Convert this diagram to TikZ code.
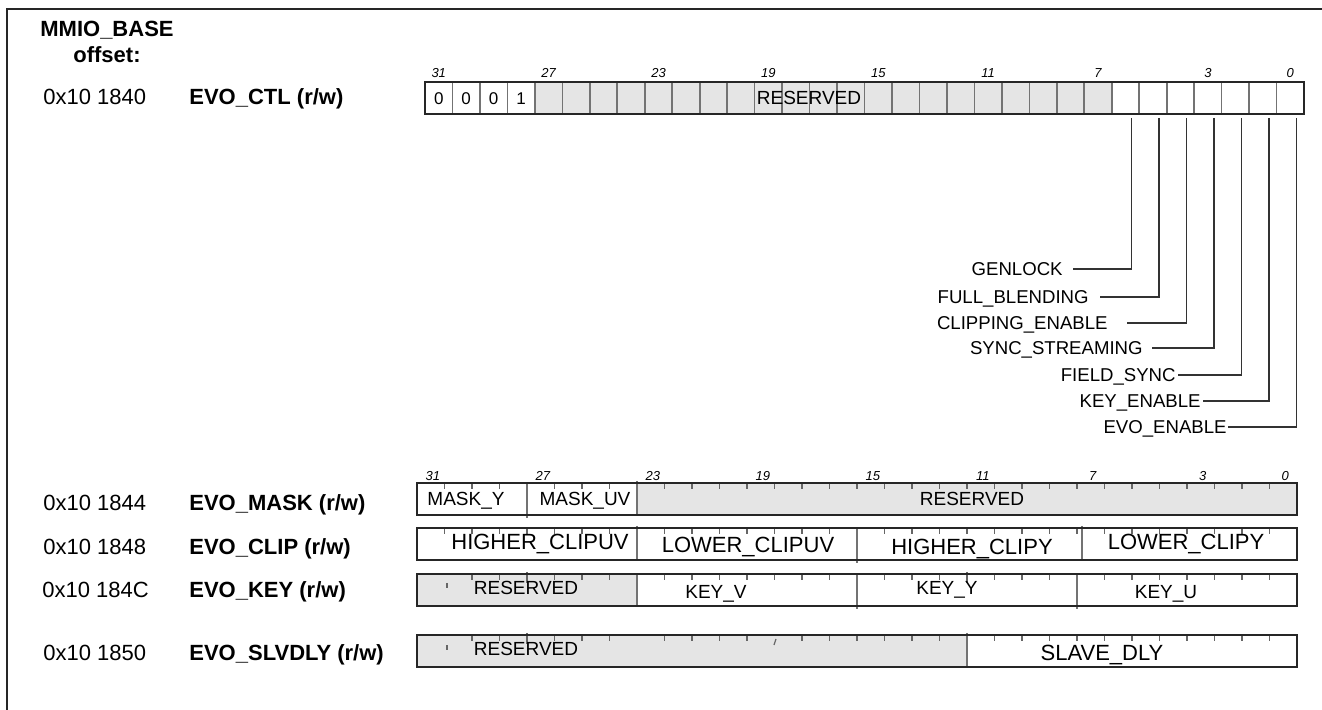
\documentclass[tikz,border=0pt]{standalone}
\usepackage{fontspec}
\setmainfont{Liberation Sans}
\usepackage{tikz}
\usetikzlibrary{positioning}
\usetikzlibrary{calc}

\tikzset{
  frame/.style={draw=black!85,line width=1.4pt},
  hdr/.style={font=\bfseries\fontsize{11}{12}\selectfont,inner sep=0pt},
  addr/.style={font=\fontsize{11}{12}\selectfont,anchor=west,inner sep=0pt,text height=7.9pt,text depth=0pt},
  regname/.style={font=\bfseries\fontsize{11}{12}\selectfont,anchor=west,inner sep=0pt,text height=7.9pt,text depth=0pt},
  bitnum/.style={font=\itshape\fontsize{6.5}{7}\selectfont,inner sep=0pt},
  digit/.style={font=\fontsize{8.5}{10}\selectfont,inner sep=0pt,text height=6.1pt,text depth=0pt},
  field/.style={font=\fontsize{9.5}{11}\selectfont,inner sep=0pt,text height=6.8pt,text depth=0pt},
  bigfield/.style={font=\fontsize{11}{12}\selectfont,inner sep=0pt,text height=7.9pt,text depth=0pt},
  flag/.style={font=\fontsize{9.3}{11}\selectfont,anchor=east,inner sep=0pt,text height=6.7pt,text depth=0pt},
  regbox/.style={draw=black!85,line width=0.9pt},
  cellline/.style={draw=black!55,line width=0.8pt},
  resfill/.style={fill=black!10},
  tick/.style={draw=black!60,line width=0.6pt},
  leader/.style={draw=black!80,line width=0.7pt}
}

\begin{document}
\begin{tikzpicture}[x=0.5pt,y=-0.5pt]
\useasboundingbox (0,0) rectangle (1322,710);
\draw[frame] (7,710) -- (7,9) -- (1322,9);

\node[hdr] (base) at (107,30) {MMIO\_BASE};
\node[hdr] (offs) at (107,55) {offset:};

% EVO_CTL
\node[addr] (actl) at (43,97) {0x10 1840};
\node[regname] (nctl) at (189,97) {EVO\_CTL (r/w)};
\fill[resfill] ({425+4*27.47},82) rectangle ({425+25*27.47},114);
\foreach \i in {1,...,31}
  \draw[cellline] ({425+\i*27.47},82) -- ({425+\i*27.47},114);
\draw[regbox] (425,82) rectangle (1304,114);
\foreach \v [count=\i from 0] in {0,0,0,1}
  \node[digit] (d\i) at ({425+(\i+0.5)*27.47},98) {\v};
\node[field] (resctl) at (809,98) {RESERVED};
\foreach \b in {31,27,23,19,15,11,7,3,0}
  \node[bitnum] (t\b) at ({425+(31.5-\b)*27.47},73) {\b};

\foreach \b/\nm/\txt/\ex/\ey/\gap in {
    6/genlock/GENLOCK/1063/269/10,
    5/fullblend/FULL\_BLENDING/1089/297/11,
    4/clipen/CLIPPING\_ENABLE/1108/323/19,
    3/syncstr/SYNC\_STREAMING/1143/348/9,
    2/fieldsync/FIELD\_SYNC/1176/375/2,
    1/keyen/KEY\_ENABLE/1201/401/2,
    0/evoen/EVO\_ENABLE/1227/427/1}{
  \coordinate (c\b) at ({425+(31.5-\b)*27.47+6},118);
  \node[flag] (\nm) at (\ex,\ey) {\txt};
  \draw[leader] (c\b) |- ($(\nm.east)+(\gap,0)$);
}

% bit numbers of the lower registers
\foreach \b in {31,27,23,19,15,11,7,3,0}
  \node[bitnum] (u\b) at ({417+(31.5-\b)*27.5+2},476) {\b};

% EVO_MASK
\node[addr] (amask) at (43,503) {0x10 1844};
\node[regname] (nmask) at (189,503) {EVO\_MASK (r/w)};
\fill[resfill] (637,483) rectangle (1297,515);
\foreach \i in {1,...,31}
  \draw[tick] ({417+\i*27.5},483) -- ++(0,6);
\draw[cellline] (527,483) -- (527,518);
\draw[cellline] (637,481) -- (637,515);
\draw[regbox] (417,483) rectangle (1297,515);
\node[field] (masky) at (466,499) {MASK\_Y};
\node[field] (maskuv) at (585,499) {MASK\_UV};
\node[field] (resmask) at (972,499) {RESERVED};

% EVO_CLIP
\node[addr] (aclip) at (43,547) {0x10 1848};
\node[regname] (nclip) at (189,547) {EVO\_CLIP (r/w)};
\foreach \i in {1,...,31}
  \draw[tick] ({417+\i*27.5},528) -- ++(0,6);
\draw[cellline] (637,526) -- (637,560);
\draw[cellline] (857,528) -- (857,563);
\draw[cellline] (1082,526) -- (1082,560);
\draw[regbox] (417,528) rectangle (1297,560);
\node[bigfield] (hiuv) at (540,542) {HIGHER\_CLIPUV};
\node[bigfield] (louv) at (748,545) {LOWER\_CLIPUV};
\node[bigfield] (hiy) at (972,547) {HIGHER\_CLIPY};
\node[bigfield] (loy) at (1186,542) {LOWER\_CLIPY};

% EVO_KEY
\node[addr] (akey) at (42,590) {0x10 184C};
\node[regname] (nkey) at (189,590) {EVO\_KEY (r/w)};
\fill[resfill] (417,574) rectangle (637,606);
\foreach \i in {2,...,31}
  \draw[tick] ({417+\i*27.5},574) -- ++(0,6);
\draw[tick] (447,583) -- (447,588);
\draw[tick] (527,572) -- (527,583);
\draw[tick] (967,572) -- (967,583);
\draw[cellline] (637,574) -- (637,606);
\draw[cellline] (857,574) -- (857,609);
\draw[cellline] (1077,574) -- (1077,609);
\draw[regbox] (417,574) rectangle (1297,606);
\node[field] (reskey) at (526,588) {RESERVED};
\node[field] (keyv) at (716,592) {KEY\_V};
\node[field] (keyy) at (947,588) {KEY\_Y};
\node[field] (keyu) at (1166,592) {KEY\_U};

% EVO_SLVDLY
\node[addr] (aslv) at (43,653) {0x10 1850};
\node[regname] (nslv) at (189,653) {EVO\_SLVDLY (r/w)};
\fill[resfill] (417,635) rectangle (967,667);
\foreach \i in {2,...,7,9,10,11,12,14,15,...,31}
  \draw[tick] ({417+\i*27.5},635) -- ++(0,6);
\draw[tick] (447,645) -- (447,650);
\draw[tick] (527,633) -- (527,644);
\draw[tick] (776,639) -- (774,645);
\draw[cellline] (967,633) -- (967,667);
\draw[regbox] (417,635) rectangle (1297,667);
\node[field] (resslv) at (526,649) {RESERVED};
\node[bigfield] (slvdly) at (1102,653) {SLAVE\_DLY};
\end{tikzpicture}
\end{document}
